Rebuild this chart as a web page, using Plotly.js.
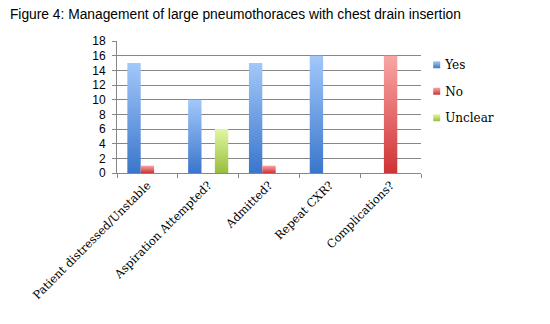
<!DOCTYPE html>
<html><head><meta charset="utf-8">
<script src="https://cdn.plot.ly/plotly-3.0.1.min.js"></script>
<style>body{margin:0;background:#fff}#chart{width:550px;height:324px}</style>
</head><body><div id="chart"></div>
<script>
var categories = ["Patient distressed/Unstable", "Aspiration Attempted?", "Admitted?", "Repeat CXR?", "Complications?"];
var yesValues = [15, 10, 15, 16, 0];
var noValues = [1, 0, 1, 0, 16];
var unclearValues = [0, 6, 0, 0, 0];
var seriesNames = ["Yes", "No", "Unclear"];
var yTicks = [0, 2, 4, 6, 8, 10, 12, 14, 16, 18];

var grads = [
  {id: "gYes", top: "#A3C8FA", bot: "#3A76CB"},
  {id: "gNo", top: "#F9A6A6", bot: "#CF3333"},
  {id: "gUnc", top: "#E0F8A2", bot: "#98BE3C"}
];
var mids = ["#6A9EE4", "#E66A6A", "#BEDB6E"];
var vals = [yesValues, noValues, unclearValues];

var traces = vals.map(function (v, i) {
  return {type: "bar", x: categories, y: v, name: seriesNames[i], legendgroup: "g" + i,
    marker: {color: mids[i], line: {width: 0}}};
});

var layout = {
  width: 550, height: 324,
  margin: {l: 117, r: 129, t: 41, b: 151},
  paper_bgcolor: "#fff", plot_bgcolor: "#fff",
  barmode: "group", bargap: 0.34, bargroupgap: 0,
  title: {text: "Figure 4: Management of large pneumothoraces with chest drain insertion",
    font: {family: "Liberation Sans, Arial, sans-serif", size: 13.8, color: "#000"},
    x: 0.018, xanchor: "left", y: 0.955, yanchor: "middle"},
  xaxis: {type: "category", tickangle: -45, ticks: "outside", tickson: "boundaries", ticklen: 4,
    tickcolor: "#868686", showline: true, linecolor: "#868686", linewidth: 1,
    tickfont: {family: "DejaVu Serif, Liberation Serif, serif", size: 11.5, color: "#000"},
    showgrid: false, fixedrange: true},
  yaxis: {range: [0, 18], tickvals: yTicks, ticks: "outside", ticklen: 4, tickcolor: "#868686",
    ticklabelstandoff: 4,
    showline: true, linecolor: "#868686", linewidth: 1,
    gridcolor: "#868686", gridwidth: 1, zeroline: false,
    tickfont: {family: "Liberation Sans, Arial, sans-serif", size: 12, color: "#000"}},
  legend: {x: 0.948, xanchor: "left", y: 0.93, yanchor: "top", traceorder: "grouped", tracegroupgap: 7.5,
    font: {family: "DejaVu Serif, Liberation Serif, serif", size: 12, color: "#000"},
    itemwidth: 30, bgcolor: "rgba(0,0,0,0)"},
  showlegend: true
};

Plotly.newPlot("chart", traces, layout, {displayModeBar: false, staticPlot: true}).then(function (gd) {
  var svg = gd.querySelector("svg.main-svg");
  var ns = "http://www.w3.org/2000/svg";
  var defs = svg.querySelector("defs") || svg.insertBefore(document.createElementNS(ns, "defs"), svg.firstChild);
  grads.forEach(function (g) {
    var lg = document.createElementNS(ns, "linearGradient");
    lg.setAttribute("id", g.id);
    lg.setAttribute("x1", "0"); lg.setAttribute("y1", "0"); lg.setAttribute("x2", "0"); lg.setAttribute("y2", "1");
    var s1 = document.createElementNS(ns, "stop"); s1.setAttribute("offset", "0"); s1.setAttribute("stop-color", g.top);
    var s2 = document.createElementNS(ns, "stop"); s2.setAttribute("offset", "1"); s2.setAttribute("stop-color", g.bot);
    lg.appendChild(s1); lg.appendChild(s2); defs.appendChild(lg);
  });
  var barTraces = gd.querySelectorAll(".barlayer .trace");
  barTraces.forEach(function (t, i) {
    t.querySelectorAll("path").forEach(function (p) { p.style.fill = "url(#" + grads[i].id + ")"; });
  });
  var legItems = gd.querySelectorAll(".legend .traces");
  legItems.forEach(function (t, i) {
    t.querySelectorAll(".legendpoints path").forEach(function (p) {
      p.style.fill = "url(#" + grads[i].id + ")";
      p.setAttribute("d", "M8,-3.5h7v7h-7Z");
    });
  });
});
</script></body></html>
